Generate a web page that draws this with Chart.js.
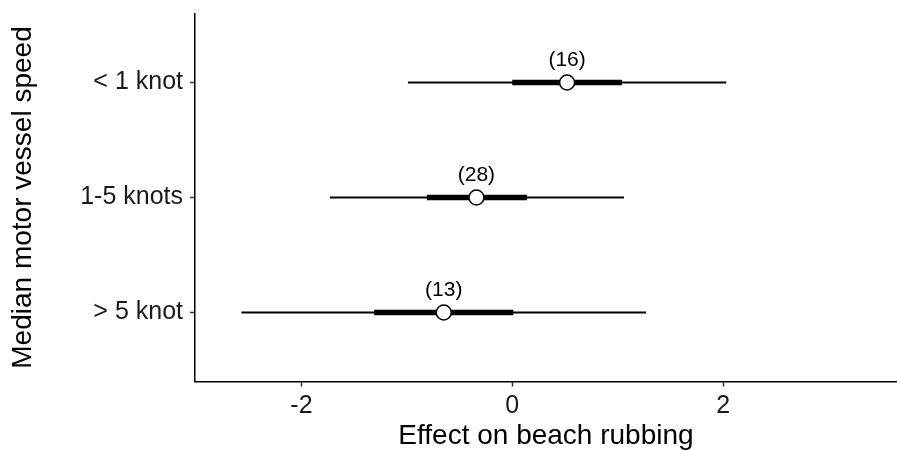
<!DOCTYPE html>
<html>
<head>
<meta charset="utf-8">
<script src="https://cdn.jsdelivr.net/npm/chart.js@4.4.1/dist/chart.umd.min.js"></script>
<style>
  html, body { margin: 0; padding: 0; background: #fff; overflow: hidden; }
  #wrap { width: 897px; height: 450px; }
</style>
</head>
<body>
<div id="wrap"><canvas id="forest"></canvas></div>
<script>
// categories bottom to top
const categories = ['> 5 knot', '1-5 knots', '< 1 knot'];
const counts = [13, 28, 16];
const estimates = [-0.65, -0.34, 0.52];
const innerLow = [-1.31, -0.81, 0.0];
const innerHigh = [0.01, 0.14, 1.04];
const outerLow = [-2.57, -1.73, -0.99];
const outerHigh = [1.27, 1.06, 2.03];
const xTicks = [-2, 0, 2];

const FONT = "'Liberation Sans', Arial, sans-serif";

let datasets = [];

// white points on top
datasets.push({
    type: 'scatter',
    data: estimates.map((v, i) => ({ x: v, y: i + 1 })),
    pointRadius: 7.5,
    pointBackgroundColor: '#fff',
    pointBorderColor: '#000',
    pointBorderWidth: 1.5,
    order: 0
});

categories.forEach((cat, i) => {
    datasets.push({
        type: 'line',
        data: [{ x: innerLow[i], y: i + 1 }, { x: innerHigh[i], y: i + 1 }],
        borderColor: '#000',
        borderWidth: 5.5,
        borderCapStyle: 'butt',
        pointRadius: 0,
        order: 1
    });
    datasets.push({
        type: 'line',
        data: [{ x: outerLow[i], y: i + 1 }, { x: outerHigh[i], y: i + 1 }],
        borderColor: '#000',
        borderWidth: 2,
        borderCapStyle: 'butt',
        pointRadius: 0,
        order: 2
    });
});

// sample size labels above each point
const countLabels = {
    id: 'countLabels',
    afterDatasetsDraw(chart) {
        const ctx = chart.ctx;
        const xs = chart.scales.x, ys = chart.scales.y;
        ctx.save();
        ctx.font = '21px ' + FONT;
        ctx.fillStyle = '#000';
        ctx.textAlign = 'center';
        ctx.textBaseline = 'middle';
        counts.forEach((n, i) => {
            ctx.fillText('(' + n + ')', xs.getPixelForValue(estimates[i]), ys.getPixelForValue(i + 1) - 22);
        });
        ctx.restore();
    }
};

new Chart(document.getElementById('forest'), {
    type: 'scatter',
    data: { datasets },
    plugins: [countLabels],
    options: {
        responsive: true,
        maintainAspectRatio: false,
        animation: false,
        layout: { autoPadding: false, padding: { top: 13.5, right: 0, bottom: 0, left: 0 } },
        plugins: { legend: { display: false }, tooltip: { enabled: false } },
        scales: {
            x: {
                type: 'linear',
                min: -3.01,
                max: 3.65,
                afterBuildTicks: s => { s.ticks = xTicks.map(v => ({ value: v })); },
                afterFit: s => { s.height = 68.5; s.paddingLeft = 0; s.paddingRight = 0; },
                border: { color: '#000', width: 1.5 },
                grid: { drawOnChartArea: false, drawTicks: true, tickLength: 5, color: '#333', tickWidth: 1.5 },
                ticks: { font: { family: FONT, size: 25 }, color: '#1a1a1a', padding: 5 },
                title: {
                    display: true,
                    text: 'Effect on beach rubbing',
                    font: { family: FONT, size: 28, lineHeight: 1 },
                    color: '#000',
                    padding: { top: 0, bottom: 0 }
                }
            },
            y: {
                type: 'linear',
                min: 0.4,
                max: 3.6,
                afterBuildTicks: s => { s.ticks = [1, 2, 3].map(v => ({ value: v })); },
                afterFit: s => { s.width = 195; s.paddingTop = 0; s.paddingBottom = 0; },
                border: { color: '#000', width: 1.5 },
                grid: { drawOnChartArea: false, drawTicks: true, tickLength: 5, color: '#333', tickWidth: 1.5 },
                ticks: {
                    font: { family: FONT, size: 25 },
                    color: '#1a1a1a',
                    padding: 7,
                    callback: v => categories[v - 1]
                },
                title: {
                    display: true,
                    text: 'Median motor vessel speed',
                    font: { family: FONT, size: 28, lineHeight: 1 },
                    color: '#000',
                    padding: { top: 9, bottom: 0 }
                }
            }
        }
    }
});
</script>
</body>
</html>
